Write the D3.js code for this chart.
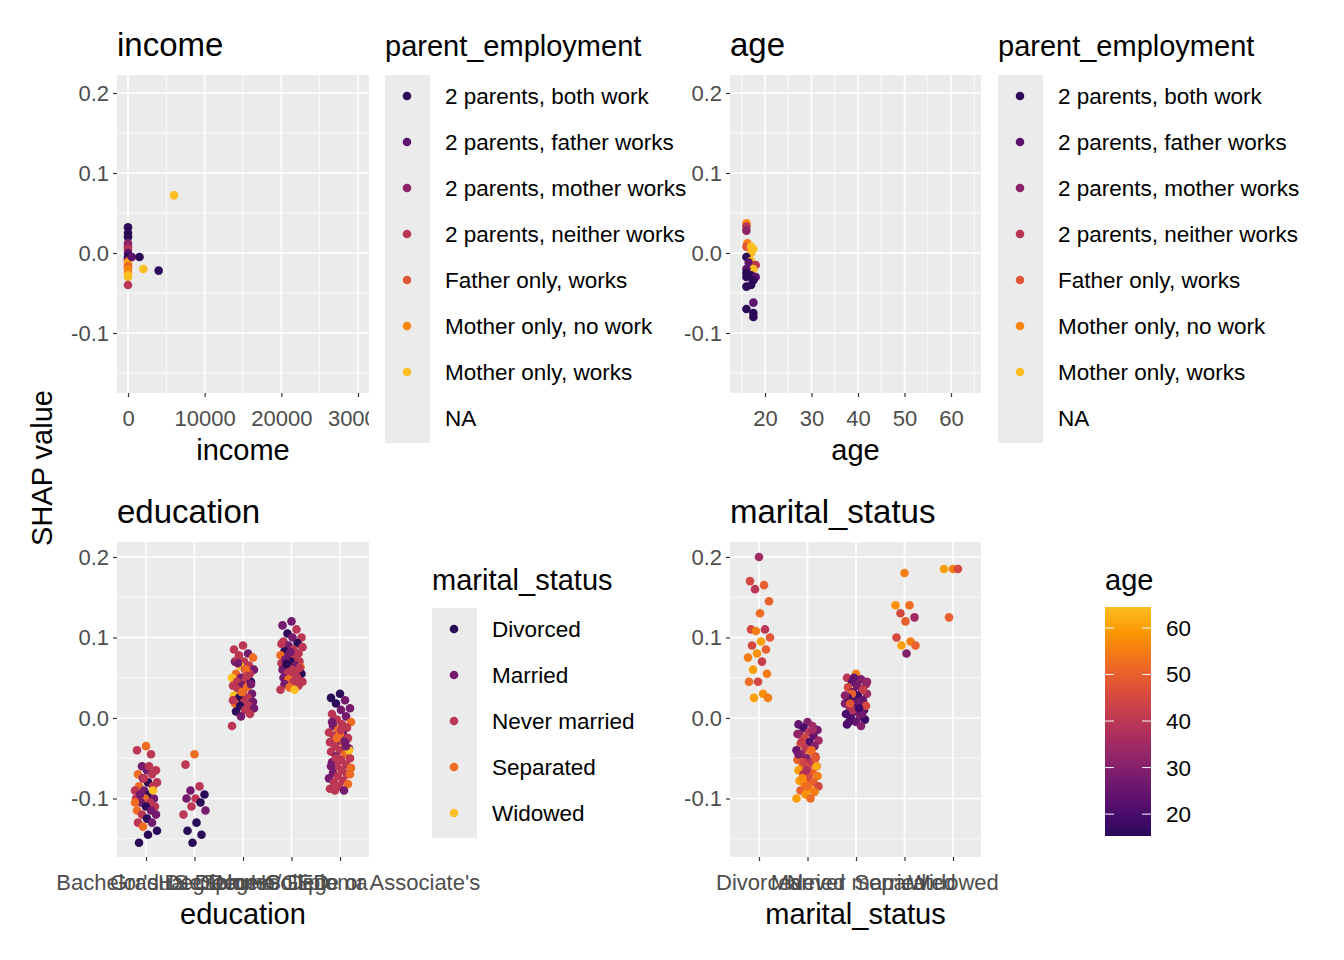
<!DOCTYPE html>
<html><head><meta charset="utf-8">
<script src="https://cdn.jsdelivr.net/npm/d3@7"></script>
<style>body{margin:0;background:#fff}text{font-family:Arial,"Liberation Sans",sans-serif}</style>
</head><body><svg id="c" width="1344" height="960"></svg>
<script>
const parentLevels=["2 parents, both work","2 parents, father works","2 parents, mother works","2 parents, neither works","Father only, works","Mother only, no work","Mother only, works","NA"];
const maritalLevels=["Divorced","Married","Never married","Separated","Widowed"];
const eduLevels=["Bachelor's Degree","Graduate Degree","HS Diploma/GED","No HS Diploma","Some College or Associate's"];
const yTicks=[-0.1,0,0.1,0.2];
const incomeTicks=[0,10000,20000,30000];
const ageTicks=[20,30,40,50,60];
const colorbarTicks=[20,30,40,50,60];
// [income, shap, parent_employment]
const incomePts=[[0,0.032,0],[0,0.025,0],[0,0.02,0],[0,0.012,2],[0,0.008,2],[0,0.005,3],[0,0,1],[0,-0.005,0],[0,-0.008,0],[0,-0.01,4],[0,-0.013,6],[0,-0.015,5],[0,-0.018,4],[0,-0.02,5],[0,-0.025,5],[0,-0.028,6],[0,-0.03,6],[0,-0.04,3],[500,-0.005,1],[1500,-0.005,0],[2000,-0.02,6],[4000,-0.022,0],[6000,0.072,6]];
// [age, shap, parent_employment]
const agePts=[[16,0.037,5],[16,0.033,3],[16,0.028,2],[16.2,0.012,5],[16,0.008,4],[17,0.008,6],[17.5,0.005,6],[17,0,6],[16,-0.005,0],[17,-0.01,6],[16.5,-0.012,1],[18,-0.015,3],[17.5,-0.02,6],[16,-0.02,1],[16,-0.025,0],[17,-0.028,0],[16,-0.03,0],[18,-0.03,1],[17.5,-0.034,0],[16,-0.042,0],[17,-0.04,0],[17.5,-0.062,1],[16,-0.07,0],[17.5,-0.075,0],[17.5,-0.08,0]];
// education: [shap, marital_status] per level
const eduBachelor=[[-0.035,3],[-0.04,2],[-0.045,2],[-0.06,1],[-0.065,2],[-0.065,1],[-0.07,3],[-0.07,2],[-0.075,1],[-0.08,2],[-0.08,0],[-0.085,3],[-0.085,2],[-0.09,1],[-0.09,2],[-0.095,0],[-0.095,2],[-0.1,1],[-0.1,3],[-0.1,2],[-0.105,2],[-0.105,1],[-0.11,2],[-0.11,0],[-0.115,3],[-0.115,1],[-0.12,2],[-0.12,1],[-0.125,0],[-0.13,2],[-0.13,1],[-0.135,3],[-0.14,0],[-0.145,0],[-0.155,0],[-0.09,4],[-0.075,2],[-0.105,3],[-0.06,2],[-0.095,1]];
const eduGraduate=[[-0.045,3],[-0.058,2],[-0.085,2],[-0.09,1],[-0.095,0],[-0.1,2],[-0.1,1],[-0.105,0],[-0.11,2],[-0.115,1],[-0.13,0],[-0.14,0],[-0.145,0],[-0.155,0],[-0.12,2]];
const eduHS=[[0.09,2],[0.085,2],[0.08,1],[0.078,2],[0.075,3],[0.07,2],[0.07,1],[0.065,2],[0.065,4],[0.06,1],[0.06,2],[0.055,3],[0.055,2],[0.05,1],[0.05,4],[0.048,2],[0.045,2],[0.045,0],[0.04,1],[0.04,2],[0.038,3],[0.035,2],[0.03,1],[0.03,2],[0.028,4],[0.025,2],[0.025,0],[0.02,1],[0.02,2],[0.018,3],[0.015,2],[0.015,0],[0.012,1],[0.01,2],[0.008,0],[0.005,2],[0.002,1],[-0.01,2],[0.06,3],[0.072,2],[0.042,1],[0.032,3],[0.022,2],[0.052,2],[0.068,1]];
const eduNoHS=[[0.12,1],[0.115,1],[0.11,2],[0.105,0],[0.1,2],[0.1,1],[0.095,2],[0.093,0],[0.09,1],[0.088,2],[0.085,2],[0.083,0],[0.08,2],[0.08,1],[0.078,3],[0.075,2],[0.073,1],[0.07,2],[0.07,0],[0.068,2],[0.065,1],[0.065,2],[0.063,3],[0.06,2],[0.06,1],[0.058,2],[0.055,2],[0.055,0],[0.052,2],[0.05,1],[0.05,2],[0.048,3],[0.045,2],[0.045,2],[0.042,1],[0.04,2],[0.038,3],[0.035,2],[0.035,4],[0.072,1],[0.062,2],[0.082,1],[0.092,2],[0.057,2],[0.067,0]];
const eduSome=[[0.03,0],[0.025,0],[0.022,1],[0.018,0],[0.012,1],[0.01,1],[0.005,2],[0.002,1],[-0.002,2],[-0.005,3],[-0.008,2],[-0.01,1],[-0.012,2],[-0.015,3],[-0.018,2],[-0.02,1],[-0.022,2],[-0.025,2],[-0.028,1],[-0.03,2],[-0.032,3],[-0.035,2],[-0.038,1],[-0.04,2],[-0.042,2],[-0.045,3],[-0.048,1],[-0.05,2],[-0.052,2],[-0.055,1],[-0.058,2],[-0.06,2],[-0.062,3],[-0.065,2],[-0.068,1],[-0.07,2],[-0.072,2],[-0.075,1],[-0.078,2],[-0.08,2],[-0.082,3],[-0.085,2],[-0.088,2],[-0.09,1],[-0.09,2],[-0.04,4],[-0.02,3],[-0.06,1],[-0.03,1],[-0.05,2],[-0.07,3],[-0.015,2],[-0.005,1],[-0.035,1],[-0.025,3]];
const eduData=[eduBachelor,eduGraduate,eduHS,eduNoHS,eduSome];
// marital: [shap, age] per level
const marDivorced=[[0.2,35],[0.17,45],[0.165,50],[0.16,40],[0.145,50],[0.13,52],[0.11,45],[0.11,40],[0.108,55],[0.1,48],[0.095,60],[0.09,45],[0.085,50],[0.08,58],[0.075,55],[0.07,42],[0.06,60],[0.055,55],[0.045,45],[0.045,52],[0.03,58],[0.025,60],[0.025,55]];
const marMarried=[[-0.005,30],[-0.008,25],[-0.01,35],[-0.012,20],[-0.015,28],[-0.018,40],[-0.02,30],[-0.022,25],[-0.025,45],[-0.028,35],[-0.03,22],[-0.032,50],[-0.035,30],[-0.038,40],[-0.04,25],[-0.042,55],[-0.045,35],[-0.048,45],[-0.05,30],[-0.052,50],[-0.055,40],[-0.058,55],[-0.06,35],[-0.062,45],[-0.065,60],[-0.068,50],[-0.07,40],[-0.072,55],[-0.075,45],[-0.078,60],[-0.08,50],[-0.082,55],[-0.085,45],[-0.088,60],[-0.09,50],[-0.092,55],[-0.095,58],[-0.1,60],[-0.1,52],[-0.03,42],[-0.05,48],[-0.065,38],[-0.02,33],[-0.04,52],[-0.075,57],[-0.06,62],[-0.085,52],[-0.045,28],[-0.015,36],[-0.055,44]];
const marNever=[[0.055,55],[0.05,40],[0.048,30],[0.045,25],[0.042,35],[0.04,20],[0.038,45],[0.035,28],[0.032,22],[0.03,35],[0.028,18],[0.025,40],[0.022,25],[0.02,20],[0.018,30],[0.015,22],[0.012,35],[0.01,18],[0.008,25],[0.005,20],[0.002,30],[0,22],[-0.002,18],[-0.005,25],[-0.008,20],[-0.01,30],[0.03,50],[0.015,45],[0.04,28],[0.025,19],[0.005,27],[0.01,38],[0.045,33],[0.02,26],[-0.005,21],[0.035,42],[0.05,24],[0.028,31],[0.012,19],[0.018,48]];
const marSeparated=[[0.18,55],[0.14,58],[0.14,52],[0.13,45],[0.125,35],[0.12,50],[0.1,45],[0.095,55],[0.09,60],[0.09,50],[0.08,30]];
const marWidowed=[[0.185,55],[0.185,60],[0.185,45],[0.125,50]];
const marData=[marDivorced,marMarried,marNever,marSeparated,marWidowed];

const svg=d3.select("#c");
const inf=t=>d3.interpolateInferno(t);
const ageCol=d3.scaleSequential().domain([15.3,64.5]).interpolator(t=>inf(0.15+0.7*t));
const peCol=i=>inf(0.15+0.7*i/6);
const msCol=i=>inf(0.15+0.7*i/4);
const grey="#4D4D4D";
function jit(i,w){return (((i*37+11)%23)/22-0.5)*w;}
const defs=svg.append("defs");

function panel(id,x0,x1,y0,y1,yDom,xScale,xTicks,xMinor,xFmt,title,xTitle,clipX){
  const g=svg.append("g");
  const y=d3.scaleLinear().domain(yDom).range([y1,y0]);
  g.append("rect").attr("x",x0).attr("y",y0).attr("width",x1-x0).attr("height",y1-y0).attr("fill","#EBEBEB");
  const yMinor=[-0.15,-0.05,0.05,0.15];
  yMinor.forEach(v=>g.append("line").attr("x1",x0).attr("x2",x1).attr("y1",y(v)).attr("y2",y(v)).attr("stroke","#fff").attr("stroke-width",0.8));
  xMinor.forEach(v=>g.append("line").attr("x1",xScale(v)).attr("x2",xScale(v)).attr("y1",y0).attr("y2",y1).attr("stroke","#fff").attr("stroke-width",0.8));
  yTicks.forEach(v=>g.append("line").attr("x1",x0).attr("x2",x1).attr("y1",y(v)).attr("y2",y(v)).attr("stroke","#fff").attr("stroke-width",1.6));
  xTicks.forEach(v=>g.append("line").attr("x1",xScale(v)).attr("x2",xScale(v)).attr("y1",y0).attr("y2",y1).attr("stroke","#fff").attr("stroke-width",1.6));
  const ya=g.append("g").attr("transform",`translate(${x0},0)`).call(d3.axisLeft(y).tickValues(yTicks).tickFormat(d=>d3.format(".1f")(d).replace("\u2212","-")).tickSize(4).tickPadding(4));
  const xa=g.append("g").attr("transform",`translate(0,${y1})`).call(d3.axisBottom(xScale).tickValues(xTicks).tickFormat(xFmt).tickSize(4).tickPadding(13));
  if(clipX){
    defs.append("clipPath").attr("id",id).append("rect").attr("x",0).attr("y",-10).attr("width",clipX).attr("height",60);
    xa.attr("clip-path",`url(#${id})`);
  }
  [ya,xa].forEach(a=>{a.select(".domain").remove();a.selectAll("line").attr("stroke","#333").attr("stroke-width",1.2);a.selectAll("text").attr("fill",grey).attr("font-size",22).attr("font-family","Arial,'Liberation Sans'");});
  g.append("text").attr("x",x0).attr("y",y0-19).attr("font-size",33).attr("fill","#000").text(title);
  g.append("text").attr("x",(x0+x1)/2).attr("y",y1+67).attr("text-anchor","middle").attr("font-size",29).text(xTitle);
  return {g,y};
}

// income
const xInc=d3.scaleLinear().domain([-1435,31436]).range([117,369]);
const p1=panel("ci",117,369,75,393,[-0.175,0.2225],xInc,incomeTicks,[5000,15000,25000],d3.format("d"),"income","income",369);
p1.g.append("g").selectAll("circle").data(incomePts).join("circle").attr("cx",d=>xInc(d[0])).attr("cy",d=>p1.y(d[1])).attr("r",4.3).attr("fill",d=>peCol(d[2]));

// age
const xAge=d3.scaleLinear().domain([12.47,66.45]).range([730,981]);
const p2=panel("ca",730,981,75,393,[-0.175,0.2225],xAge,ageTicks,[15,25,35,45,55,65],d3.format("d"),"age","age");
p2.g.append("g").selectAll("circle").data(agePts).join("circle").attr("cx",d=>xAge(d[0])).attr("cy",d=>p2.y(d[1])).attr("r",4.3).attr("fill",d=>peCol(d[2]));

// education
const xEdu=d3.scalePoint().domain(eduLevels).range([146,340]);
const p3=panel("ce",117,369,542,857,[-0.1727,0.2186],xEdu,eduLevels,[],d=>d,"education","education");
eduData.forEach((arr,k)=>p3.g.append("g").selectAll("circle").data(arr).join("circle")
  .attr("cx",(d,i)=>xEdu(eduLevels[k])+jit(i,22)).attr("cy",d=>p3.y(d[0])).attr("r",4.3).attr("fill",d=>msCol(d[1])));

// marital
const xMar=d3.scalePoint().domain(maritalLevels).range([759,953]);
const p4=panel("cm",730,981,542,857,[-0.1727,0.2186],xMar,maritalLevels,[],d=>d,"marital_status","marital_status");
marData.forEach((arr,k)=>p4.g.append("g").selectAll("circle").data(arr).join("circle")
  .attr("cx",(d,i)=>xMar(maritalLevels[k])+jit(i,22)).attr("cy",d=>p4.y(d[0])).attr("r",4.3).attr("fill",d=>ageCol(d[1])));

// y title
svg.append("text").attr("transform","translate(52,468) rotate(-90)").attr("text-anchor","middle").attr("font-size",29).text("SHAP value");

function discLegend(x,titleY,keyY0,title,items,colFn){
  const g=svg.append("g");
  g.append("text").attr("x",x).attr("y",titleY).attr("font-size",29).text(title);
  g.append("rect").attr("x",x).attr("y",keyY0).attr("width",45).attr("height",items.length*46).attr("fill","#EBEBEB");
  items.forEach((l,i)=>{
    const cy=keyY0+21+i*46;
    if(l!=="NA") g.append("circle").attr("cx",x+22).attr("cy",cy).attr("r",4.3).attr("fill",colFn(i));
    g.append("text").attr("x",x+60).attr("y",cy+8).attr("font-size",22.5).attr("fill","#000").text(l);
  });
}
discLegend(385,56,75,"parent_employment",parentLevels,peCol);
discLegend(998,56,75,"parent_employment",parentLevels,peCol);
discLegend(432,590,608,"marital_status",maritalLevels,msCol);

// colorbar
const cb=svg.append("g");
cb.append("text").attr("x",1105).attr("y",590).attr("font-size",29).text("age");
const cbY=d3.scaleLinear().domain([15.3,64.5]).range([836,607]);
const lg=defs.append("linearGradient").attr("id","cbg").attr("x1",0).attr("x2",0).attr("y1",1).attr("y2",0);
d3.range(0,1.0001,0.05).forEach(t=>lg.append("stop").attr("offset",t).attr("stop-color",ageCol(15.3+t*(64.5-15.3))));
cb.append("rect").attr("x",1105).attr("y",607).attr("width",46).attr("height",229).attr("fill","url(#cbg)");
colorbarTicks.forEach(v=>{
  cb.append("line").attr("x1",1105).attr("x2",1114).attr("y1",cbY(v)).attr("y2",cbY(v)).attr("stroke","#fff").attr("stroke-width",1);
  cb.append("line").attr("x1",1142).attr("x2",1151).attr("y1",cbY(v)).attr("y2",cbY(v)).attr("stroke","#fff").attr("stroke-width",1);
  cb.append("text").attr("x",1166).attr("y",cbY(v)+8).attr("font-size",22.5).text(v);
});
</script></body></html>
